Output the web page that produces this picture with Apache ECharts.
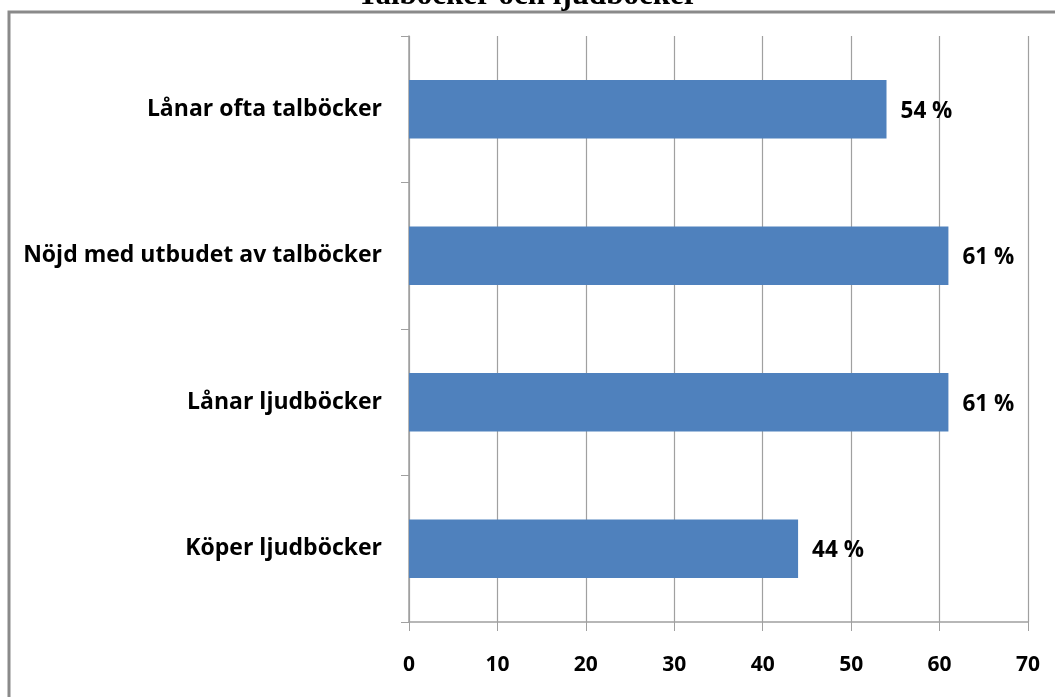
<!DOCTYPE html>
<html>
<head>
<meta charset="utf-8">
<script src="https://cdn.jsdelivr.net/npm/echarts@6/dist/echarts.min.js"></script>
<style>
  html, body { margin: 0; padding: 0; background: #fff; }
  #chart { width: 1055px; height: 697px; }
</style>
</head>
<body>
<div id="chart"></div>
<script>
// data
const categories = ["Lånar ofta talböcker", "Nöjd med utbudet av talböcker", "Lånar ljudböcker", "Köper ljudböcker"];
const values = [54, 61, 61, 44];
const xTicks = [0, 10, 20, 30, 40, 50, 60, 70];

const chart = echarts.init(document.getElementById("chart"));

const labelFont = "'Open Sans', 'Noto Sans', sans-serif";

const option = {
  animation: false,
  graphic: [
    {
      type: "rect",
      shape: { x: 9, y: 12, width: 1060, height: 700 },
      style: { fill: "none", stroke: "#8a8a8a", lineWidth: 3 },
      silent: true
    },
    {
      type: "text",
      left: "center",
      y: 11,
      style: {
        text: "Talböcker och ljudböcker",
        fontFamily: "'Liberation Serif', serif",
        fontWeight: "bold",
        fontSize: 31,
        fill: "#000",
        verticalAlign: "bottom"
      },
      silent: true
    }
  ],
  grid: { left: 409, right: 27, top: 36, bottom: 75 },
  xAxis: {
    type: "value",
    min: 0,
    max: 70,
    interval: 10,
    axisLine: { show: true, lineStyle: { color: "#a0a0a0", width: 1.5 } },
    axisTick: { show: true, length: 9, lineStyle: { color: "#a0a0a0" } },
    splitLine: { show: true, lineStyle: { color: "#a0a0a0", width: 1.2 } },
    axisLabel: {
      margin: 33,
      fontFamily: labelFont,
      fontSize: 21,
      fontWeight: "bold",
      color: "#000",
      formatter: function (v) { return xTicks.includes(v) ? String(v) : ""; }
    }
  },
  yAxis: {
    type: "category",
    data: categories,
    inverse: true,
    axisLine: { show: true, lineStyle: { color: "#a0a0a0", width: 1.5 } },
    axisTick: { show: true, length: 8, lineStyle: { color: "#a0a0a0" } },
    axisLabel: {
      margin: 27,
      fontFamily: labelFont,
      fontSize: 23,
      fontWeight: "bold",
      color: "#000"
    }
  },
  series: [
    {
      type: "bar",
      data: values,
      barCategoryGap: "60%",
      itemStyle: { color: "#4f81bd" },
      label: {
        show: true,
        position: "right",
        distance: 14,
        offset: [0, 2],
        formatter: "{c} %",
        fontFamily: labelFont,
        fontSize: 22.5,
        fontWeight: "bold",
        color: "#000"
      }
    }
  ]
};

chart.setOption(option);
</script>
</body>
</html>
